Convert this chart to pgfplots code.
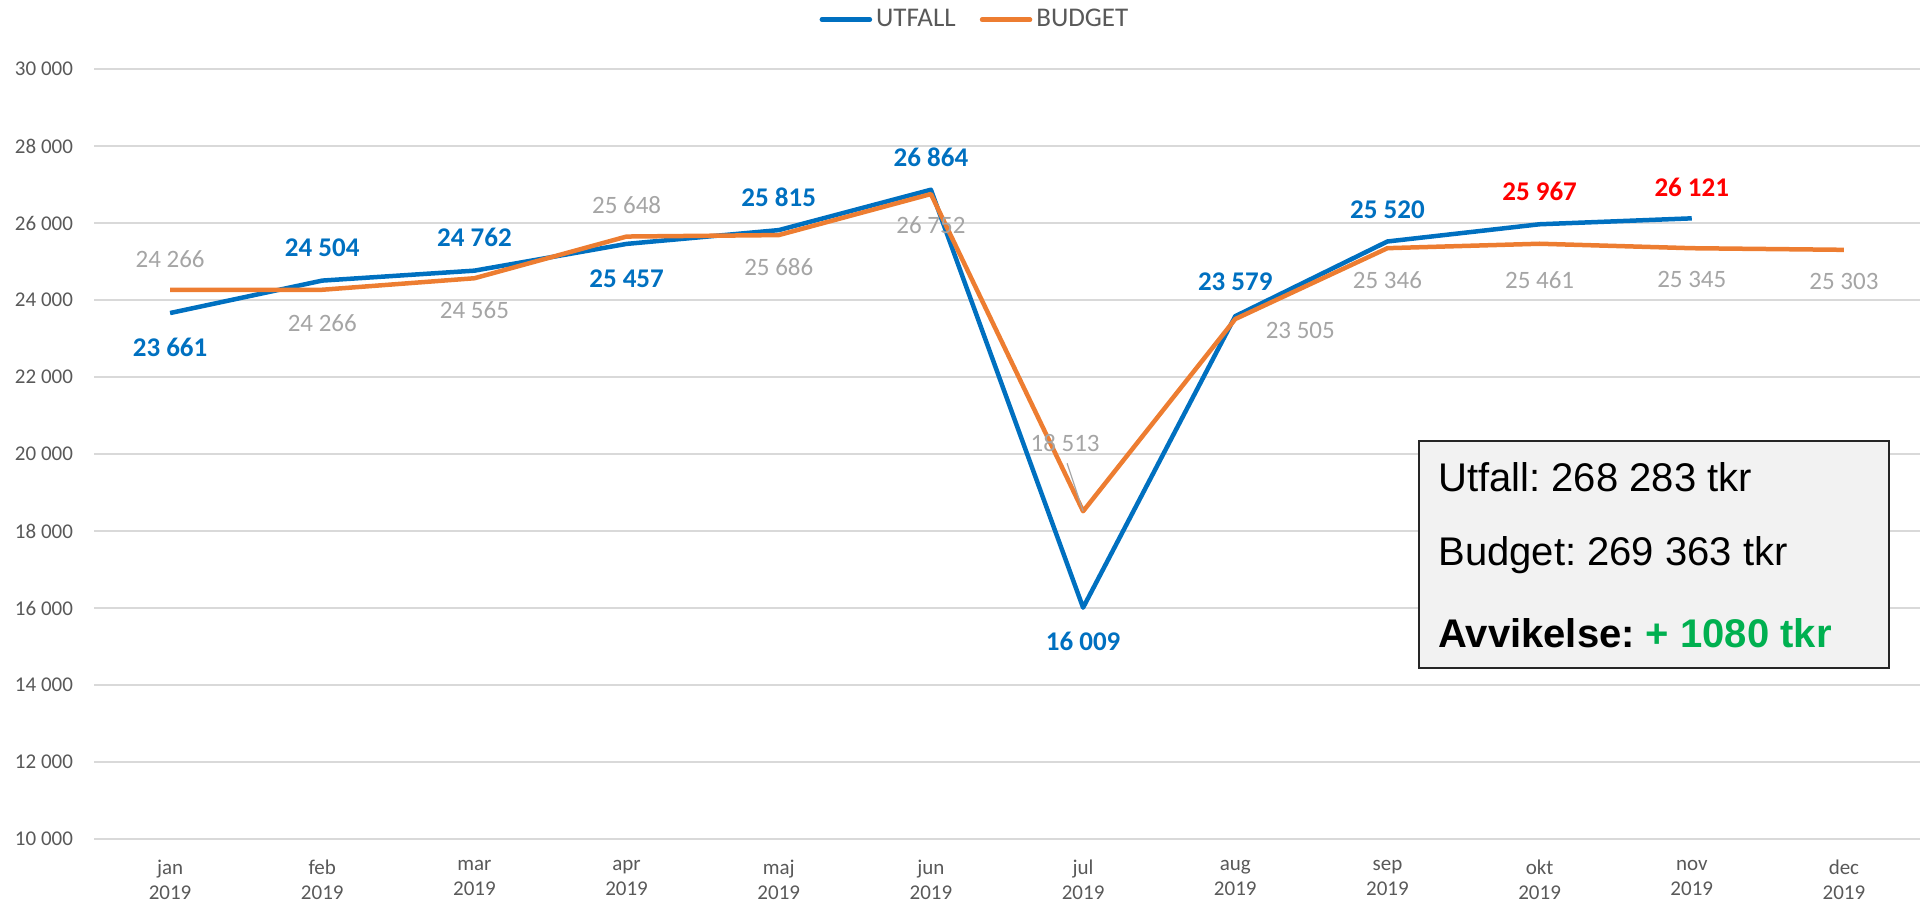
\documentclass[border=0pt]{standalone}
\usepackage{fontspec}
\setmainfont{Carlito}
\newfontfamily\arialf{Liberation Sans}
\usepackage{pgfplots}
\pgfplotsset{compat=1.18}
\definecolor{utf}{HTML}{0070C0}
\definecolor{bud}{HTML}{ED7D31}
\definecolor{lab}{HTML}{A5A5A5}
\definecolor{tick}{HTML}{595959}
\definecolor{gridc}{HTML}{D9D9D9}
\definecolor{redc}{HTML}{FF0000}
\definecolor{greenc}{HTML}{00B050}
\definecolor{boxf}{HTML}{F2F2F2}
\frenchspacing
\begin{document}
\begin{tikzpicture}[x=1pt,y=1pt]
\useasboundingbox (0,0) rectangle (966,452);
\begin{axis}[
  at={(47pt,32.5pt)}, anchor=south west,
  scale only axis, width=913pt, height=385pt,
  xmin=-0.5, xmax=11.5, ymin=10000, ymax=30000,
  scaled y ticks=false,
  xtick={0,...,11},
  xticklabels={jan\\2019,feb\\2019,mar\\2019,apr\\2019,maj\\2019,jun\\2019,jul\\2019,aug\\2019,sep\\2019,okt\\2019,nov\\2019,dec\\2019},
  xticklabel style={align=center, font=\fontsize{10.5}{12.5}\selectfont, text=tick, yshift=-7pt},
  ytick={10000,12000,...,30000},
  yticklabels={10 000,12 000,14 000,16 000,18 000,20 000,22 000,24 000,26 000,28 000,30 000},
  yticklabel style={font=\fontsize{10.5}{12.5}\selectfont, text=tick, xshift=-7pt},
  ymajorgrids, grid style={color=gridc, line width=0.75pt},
  axis line style={draw=none}, major tick length=0pt,
  clip=false,
  legend columns=2,
  legend style={at={(0.483,1.064)}, anchor=center, draw=none, fill=none,
    font=\fontsize{13.5}{16}\selectfont, text=tick,
    /tikz/every even column/.append style={column sep=10pt}},
  legend image code/.code={\draw[#1, line cap=round] (0pt,0pt) -- (24pt,0pt);},
]
\addplot[utf, line width=2.25pt, line join=round] coordinates {
(0,23661) (1,24504) (2,24762) (3,25457) (4,25815) (5,26864) (6,16009) (7,23579) (8,25520) (9,25967) (10,26121)};
\addlegendentry{UTFALL}
\addplot[bud, line width=2.25pt, line join=round] coordinates {
(0,24266) (1,24266) (2,24565) (3,25648) (4,25686) (5,26752) (6,18513) (7,23505) (8,25346) (9,25461) (10,25345) (11,25303)};
\addlegendentry{BUDGET}
% leader line
\draw[lab, line width=0.6pt] (axis cs:6,18513) -- ++(-8pt,24pt);
% budget labels
\tikzset{bl/.style={font=\fontsize{12.5}{14}\selectfont, text=lab, inner sep=0pt},
         ul/.style={font=\fontsize{13.5}{15}\selectfont\bfseries, text=utf, inner sep=0pt}}
\node[bl, yshift=15.5pt] at (axis cs:0,24266) {24 266};
\node[bl, yshift=-16.5pt] at (axis cs:1,24266) {24 266};
\node[bl, yshift=-16pt] at (axis cs:2,24565) {24 565};
\node[bl, yshift=15.5pt] at (axis cs:3,25648) {25 648};
\node[bl, yshift=-16pt] at (axis cs:4,25686) {25 686};
\node[bl, yshift=-15.75pt] at (axis cs:5,26752) {26 752};
\node[bl, xshift=-9pt, yshift=34pt] at (axis cs:6,18513) {18 513};
\node[bl, xshift=32.5pt, yshift=-5.5pt] at (axis cs:7,23505) {23 505};
\node[bl, yshift=-15.75pt] at (axis cs:8,25346) {25 346};
\node[bl, yshift=-18pt] at (axis cs:9,25461) {25 461};
\node[bl, yshift=-15.75pt] at (axis cs:10,25345) {25 345};
\node[bl, yshift=-16pt] at (axis cs:11,25303) {25 303};
% utfall labels
\node[ul, yshift=-17.2pt] at (axis cs:0,23661) {23 661};
\node[ul, yshift=16.5pt] at (axis cs:1,24504) {24 504};
\node[ul, yshift=16.5pt] at (axis cs:2,24762) {24 762};
\node[ul, yshift=-17.3pt] at (axis cs:3,25457) {25 457};
\node[ul, yshift=16.5pt] at (axis cs:4,25815) {25 815};
\node[ul, yshift=16pt] at (axis cs:5,26864) {26 864};
\node[ul, yshift=-17pt] at (axis cs:6,16009) {16 009};
\node[ul, yshift=17pt] at (axis cs:7,23579) {23 579};
\node[ul, yshift=16pt] at (axis cs:8,25520) {25 520};
\node[ul, text=redc, yshift=16.5pt] at (axis cs:9,25967) {25 967};
\node[ul, text=redc, yshift=15.5pt] at (axis cs:10,26121) {26 121};
\end{axis}
% text box
\draw[fill=boxf, draw=black!85, line width=0.8pt] (709.5,118) rectangle (944.5,231.5);
\node[anchor=west, inner sep=0pt, font=\arialf\fontsize{20}{24}\selectfont] at (719,213.5) {Utfall: 268 283 tkr};
\node[anchor=west, inner sep=0pt, font=\arialf\fontsize{20}{24}\selectfont] at (719,174.5) {Budget: 269 363 tkr};
\node[anchor=west, inner sep=0pt, font=\arialf\fontsize{20}{24}\selectfont\bfseries] at (719,135.5) {Avvikelse: \textcolor{greenc}{+ 1080 tkr}};
\end{tikzpicture}
\end{document}
